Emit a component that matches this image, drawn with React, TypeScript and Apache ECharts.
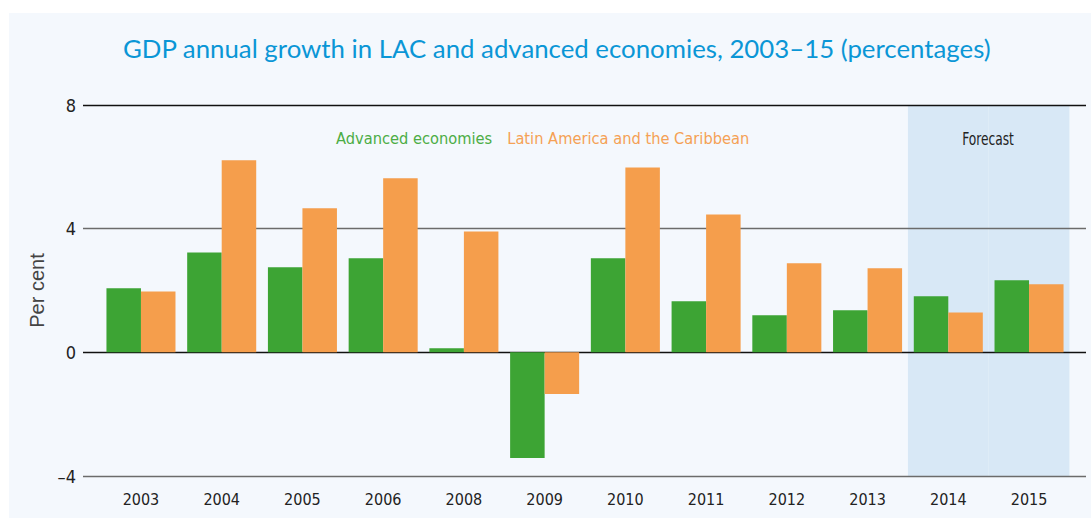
import React, { useEffect, useRef } from "react";
import * as echarts from "echarts";

const categories = ["2003", "2004", "2005", "2006", "2008", "2009", "2010", "2011", "2012", "2013", "2014", "2015"];
const advancedEconomies = [2.07, 3.23, 2.75, 3.04, 0.13, -3.42, 3.04, 1.65, 1.2, 1.36, 1.81, 2.33];
const latinAmerica = [1.97, 6.21, 4.66, 5.63, 3.91, -1.35, 5.98, 4.46, 2.88, 2.72, 1.29, 2.2];
const forecastTop = [null, null, null, null, null, null, null, null, null, null, 8, 8];
const forecastBottom = [null, null, null, null, null, null, null, null, null, null, -4, -4];
const yTicks = { min: -4, max: 8, interval: 4 };

const TITLE = "GDP annual growth in LAC and advanced economies, 2003–15 (percentages)";
const NARROW = "'Liberation Sans Narrow', 'DejaVu Sans Condensed', 'Roboto Condensed', sans-serif";

export default function App() {
  const ref = useRef<HTMLDivElement>(null);
  useEffect(() => {
    if (!ref.current) return;
    const chart = echarts.init(ref.current, undefined, { renderer: "svg" });
    const W = 1091;
    const gridTop = 105, gridBottom = 43;
    chart.setOption({
      animation: false,
      backgroundColor: "#ffffff",
      title: {
        text: TITLE,
        left: 118,
        top: 30,
        textStyle: { fontFamily: "Lato, 'Noto Sans', sans-serif", fontWeight: "normal", fontSize: 25.8, color: "#0a96d6" },
      },
      legend: {
        data: [
          { name: "Advanced economies", textStyle: { color: "#4cad45" } },
          { name: "Latin America and the Caribbean", textStyle: { color: "#f5a155" } },
        ],
        left: 326,
        top: 125,
        itemWidth: 0,
        itemHeight: 0,
        itemGap: 10,
        selectedMode: false,
        textStyle: { fontFamily: NARROW, fontSize: 16.3 },
      },
      graphic: [
        { type: "rect", z: -10, silent: true, shape: { x: 9, y: 13, width: W - 9, height: 505 }, style: { fill: "#f4f8fd" } },
        {
          type: "text",
          x: 988,
          y: 139,
          scaleX: 0.8,
          z: 10,
          style: { text: "Forecast", fontFamily: NARROW, fontSize: 17, fill: "#222", textAlign: "center", textVerticalAlign: "middle" },
        },
      ],
      grid: [
        { left: 83, right: 5, top: gridTop, bottom: gridBottom },
        { left: 100.6, right: 21.6, top: gridTop, bottom: gridBottom },
      ],
      xAxis: [
        { type: "value", gridIndex: 0, show: false, min: 0, max: 1 },
        {
          type: "category",
          gridIndex: 1,
          data: categories,
          axisLine: { show: false },
          axisTick: { show: false },
          axisLabel: { fontFamily: NARROW, fontSize: 16, color: "#222", margin: 15 },
        },
        { type: "category", gridIndex: 1, data: categories, show: false },
      ],
      yAxis: [
        {
          type: "value",
          gridIndex: 0,
          min: yTicks.min,
          max: yTicks.max,
          interval: yTicks.interval,
          z: 1,
          axisLine: { show: false },
          axisTick: { show: false },
          axisLabel: {
            fontFamily: NARROW,
            fontSize: 18,
            color: "#222",
            margin: 7,
            formatter: (v: number) => (v < 0 ? "–" + Math.abs(v) : String(v)),
          },
          splitLine: { lineStyle: { color: ["#6b6b6b", "#111111", "#6b6b6b", "#111111"], width: 1.3 } },
          name: "Per cent",
          nameLocation: "middle",
          nameGap: 36,
          nameTextStyle: { fontFamily: "'Liberation Sans', Arial, sans-serif", fontSize: 20, color: "#444" },
        },
        { type: "value", gridIndex: 1, min: yTicks.min, max: yTicks.max, interval: yTicks.interval, show: false, splitLine: { show: false } },
      ],
      series: [
        {
          name: "forecastTop",
          type: "bar",
          xAxisIndex: 2,
          yAxisIndex: 1,
          stack: "fc",
          data: forecastTop,
          barWidth: "100%",
          itemStyle: { color: "#d8e8f6" },
          silent: true,
          z: 0,
        },
        {
          name: "forecastBottom",
          type: "bar",
          xAxisIndex: 2,
          yAxisIndex: 1,
          stack: "fc",
          data: forecastBottom,
          barWidth: "100%",
          itemStyle: { color: "#d8e8f6" },
          silent: true,
          z: 0,
        },
        {
          name: "Advanced economies",
          type: "bar",
          xAxisIndex: 1,
          yAxisIndex: 1,
          data: advancedEconomies,
          itemStyle: { color: "#3da434" },
          barGap: "0%",
          barCategoryGap: "14.5%",
          z: 3,
        },
        {
          name: "Latin America and the Caribbean",
          type: "bar",
          xAxisIndex: 1,
          yAxisIndex: 1,
          data: latinAmerica,
          itemStyle: { color: "#f59e4c" },
          barGap: "0%",
          barCategoryGap: "14.5%",
          z: 3,
        },
      ],
    });
    return () => chart.dispose();
  }, []);
  return <div ref={ref} style={{ position: "fixed", left: 0, top: 0, width: 1091, height: 519 }} />;
}
